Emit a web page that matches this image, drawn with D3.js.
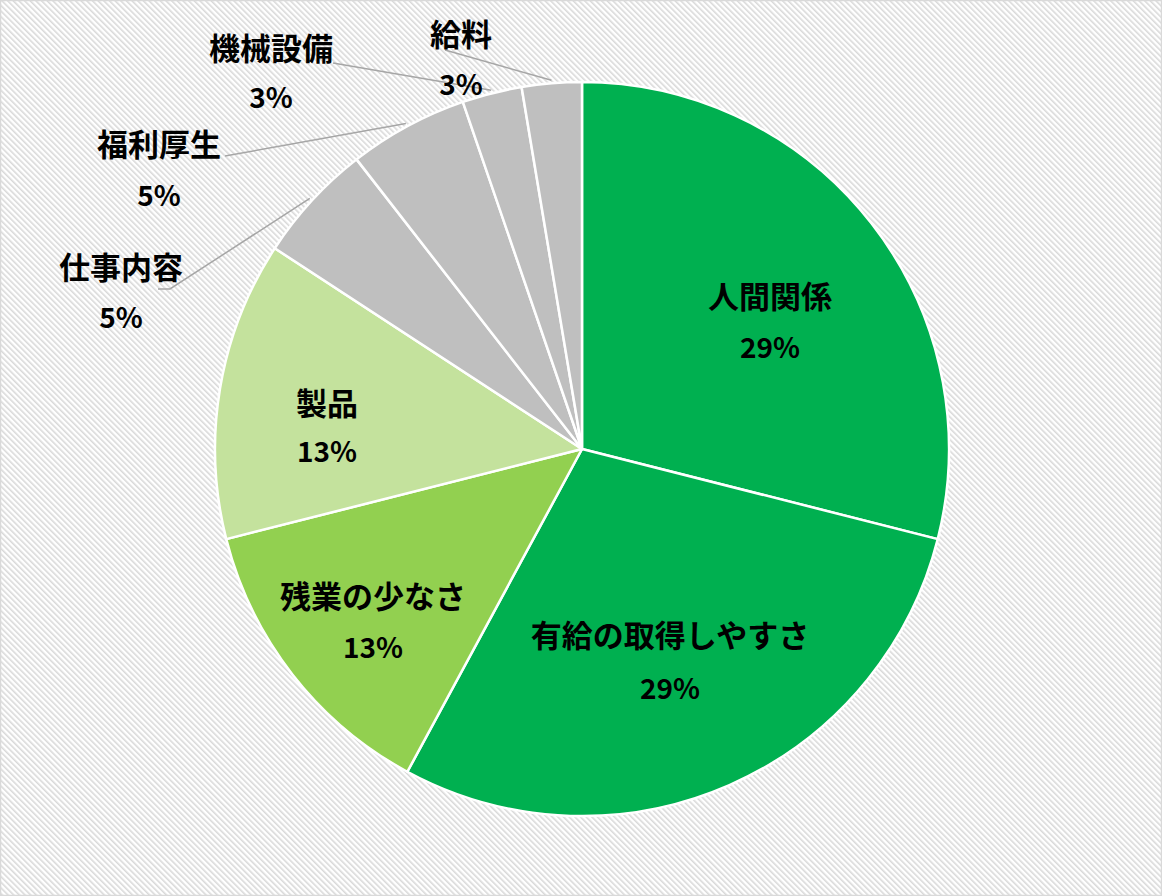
<!DOCTYPE html>
<html><head><meta charset="utf-8">
<script src="https://cdn.jsdelivr.net/npm/d3@7"></script>
<style>
html,body{margin:0;padding:0;background:#fff;}
svg{display:block;}
text{font-family:"Noto Sans CJK JP","Noto Sans",sans-serif;font-weight:700;fill:#000;}
</style></head>
<body>
<svg id="chart" width="1162" height="896"></svg>
<script>
const categories = ["人間関係","有給の取得しやすさ","残業の少なさ","製品","仕事内容","福利厚生","機械設備","給料"];
const values = [11, 11, 5, 5, 2, 2, 1, 1];
const colors = ["#00B050","#00B050","#92D050","#C4E29D","#BFBFBF","#BFBFBF","#BFBFBF","#BFBFBF"];

// label layout (text block centre x, name line y, percent line y); leader start points for outside labels
const labelLayout = [
  {x:770, y:297, py:348},
  {x:670, y:636, py:689},
  {x:373, y:597, py:648},
  {x:327, y:404, py:452},
  {x:121, y:268, py:318, leader:[[158,289],[170,289]]},
  {x:159, y:145, py:196, leader:[[225,156]]},
  {x:271, y:49,  py:98,  leader:[[333,63]]},
  {x:461, y:35,  py:85,  leader:[[445,50]]}
];

const W = 1162, H = 896;
const cx = 582, cy = 449, R = 367;
const svg = d3.select("#chart");

// background hatch
const defs = svg.append("defs");
const pat = defs.append("pattern").attr("id","hatch").attr("patternUnits","userSpaceOnUse")
  .attr("width",4).attr("height",4).attr("patternTransform","rotate(-45)");
pat.append("rect").attr("width",4).attr("height",4).attr("fill","#ffffff");
pat.append("rect").attr("x",0).attr("y",0).attr("width",1.6).attr("height",4).attr("fill","#d9d9d9");
svg.append("rect").attr("width",W).attr("height",H).attr("fill","url(#hatch)");
svg.append("rect").attr("x",0.5).attr("y",0.5).attr("width",W-1).attr("height",H-1)
  .attr("fill","none").attr("stroke","#d9d9d9").attr("stroke-width",1.5);

const total = d3.sum(values);
const pie = d3.pie().sort(null).value(d=>d).startAngle(0).endAngle(2*Math.PI);
const arcs = pie(values);
const arc = d3.arc().innerRadius(0).outerRadius(R);

const g = svg.append("g").attr("transform",`translate(${cx},${cy})`);
g.selectAll("path.slice").data(arcs).join("path")
  .attr("class","slice")
  .attr("d",arc)
  .attr("fill",(d,i)=>colors[i])
  .attr("stroke","#ffffff").attr("stroke-width",2.5).attr("stroke-linejoin","round");

// leader lines
arcs.forEach((a,i)=>{
  const L = labelLayout[i];
  if(!L.leader) return;
  const mid = (a.startAngle + a.endAngle)/2;
  const end = [cx + (R+3)*Math.sin(mid), cy - (R+3)*Math.cos(mid)];
  const pts = L.leader.concat([end]);
  svg.append("path").attr("d", d3.line()(pts))
    .attr("fill","none").attr("stroke","#a6a6a6").attr("stroke-width",1.5);
});

// labels
arcs.forEach((a,i)=>{
  const L = labelLayout[i];
  const pct = Math.round(values[i]/total*100) + "%";
  svg.append("text").attr("x",L.x).attr("y",L.y).attr("dy","0.36em")
    .attr("text-anchor","middle").attr("font-size",31).text(categories[i]);
  svg.append("text").attr("x",L.x).attr("y",L.py).attr("dy","0.36em")
    .attr("text-anchor","middle").attr("font-size",28).text(pct);
});
</script>
</body></html>
